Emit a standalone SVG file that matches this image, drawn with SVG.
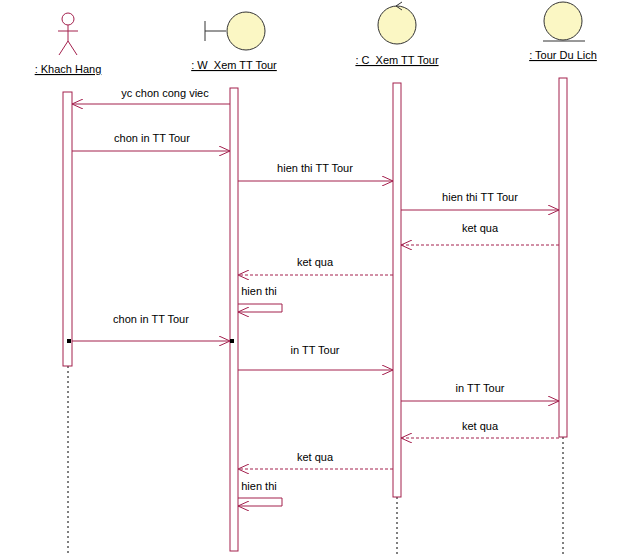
<svg xmlns="http://www.w3.org/2000/svg" width="622" height="554" viewBox="0 0 622 554">
<style>
text{font-family:"Liberation Sans",Arial,sans-serif;font-size:11px;fill:#000;text-anchor:middle}
.u{text-decoration:underline}
.ln{stroke:#a3204d;stroke-width:1;fill:none}
.d{stroke-dasharray:3,2}
.act{fill:#fff;stroke:#a3204d;stroke-width:1}
.ll{stroke:#000;stroke-dasharray:2,3;stroke-width:1}
.ic{fill:#fbf7c4;stroke:#333;stroke-width:1}
</style>
<defs>
<marker id="a" markerWidth="12" markerHeight="10" refX="11" refY="5" orient="auto" markerUnits="userSpaceOnUse">
<path d="M0,0 L11,5 L0,10" fill="none" stroke="#a3204d"/>
</marker>
</defs>
<rect width="622" height="554" fill="#fff"/>
<g id="khach">
<circle cx="68" cy="19" r="6" fill="none" stroke="#a3204d"/>
<path d="M68,25 V41 M58,31 H78 M68,41 L59,55 M68,41 L77,55" class="ln"/>
<text x="68" y="73" class="u">: Khach Hang</text>
<line x1="68" y1="366" x2="68" y2="554" class="ll"/>
<rect x="63" y="92" width="9" height="274" class="act"/>
</g>
<g id="wxem">
<path d="M205,21 V41 M205,31 H226" stroke="#333" fill="none"/>
<circle cx="246" cy="31" r="19" class="ic"/>
<text x="234" y="69" class="u">: W_Xem TT Tour</text>
<rect x="230" y="88" width="8" height="463" class="act"/>
</g>
<g id="cxem">
<circle cx="397" cy="25" r="19" class="ic"/>
<path d="M402,2 L396,6 L402,10" stroke="#333" fill="none"/>
<text x="397" y="64" class="u">: C_Xem TT Tour</text>
<line x1="397" y1="497" x2="397" y2="554" class="ll"/>
<rect x="393" y="83" width="8" height="414" class="act"/>
</g>
<g id="tour">
<circle cx="563" cy="21" r="19" class="ic"/>
<line x1="543" y1="41" x2="585" y2="41" stroke="#333"/>
<text x="563" y="59" class="u">: Tour Du Lich</text>
<line x1="563" y1="437" x2="563" y2="554" class="ll"/>
<rect x="559" y="78" width="8" height="359" class="act"/>
</g>
<g id="connectors">
<line x1="230" y1="104" x2="72" y2="104" class="ln" marker-end="url(#a)"/>
<text x="165" y="97">yc chon cong viec</text>
<line x1="72" y1="151" x2="230" y2="151" class="ln" marker-end="url(#a)"/>
<text x="152" y="142">chon in TT Tour</text>
<line x1="238" y1="181" x2="393" y2="181" class="ln" marker-end="url(#a)"/>
<text x="315" y="172">hien thi TT Tour</text>
<line x1="401" y1="210" x2="559" y2="210" class="ln" marker-end="url(#a)"/>
<text x="480" y="201">hien thi TT Tour</text>
<line x1="559" y1="245" x2="401" y2="245" class="ln d" marker-end="url(#a)"/>
<text x="480" y="232">ket qua</text>
<line x1="393" y1="275" x2="238" y2="275" class="ln d" marker-end="url(#a)"/>
<text x="315" y="266">ket qua</text>
<path d="M238,304 H282 V312 H238" class="ln" marker-end="url(#a)"/>
<text x="259" y="295">hien thi</text>
<line x1="72" y1="341" x2="230" y2="341" class="ln" marker-end="url(#a)"/>
<rect x="67" y="339" width="4" height="4" fill="#000"/>
<rect x="230" y="339" width="4" height="4" fill="#000"/>
<text x="151" y="323">chon in TT Tour</text>
<line x1="238" y1="370" x2="393" y2="370" class="ln" marker-end="url(#a)"/>
<text x="315" y="354">in TT Tour</text>
<line x1="401" y1="401" x2="559" y2="401" class="ln" marker-end="url(#a)"/>
<text x="480" y="392">in TT Tour</text>
<line x1="559" y1="438" x2="401" y2="438" class="ln d" marker-end="url(#a)"/>
<text x="480" y="430">ket qua</text>
<line x1="393" y1="469" x2="238" y2="469" class="ln d" marker-end="url(#a)"/>
<text x="315" y="461">ket qua</text>
<path d="M238,498 H282 V506 H238" class="ln" marker-end="url(#a)"/>
<text x="259" y="490">hien thi</text>
</g>
</svg>
